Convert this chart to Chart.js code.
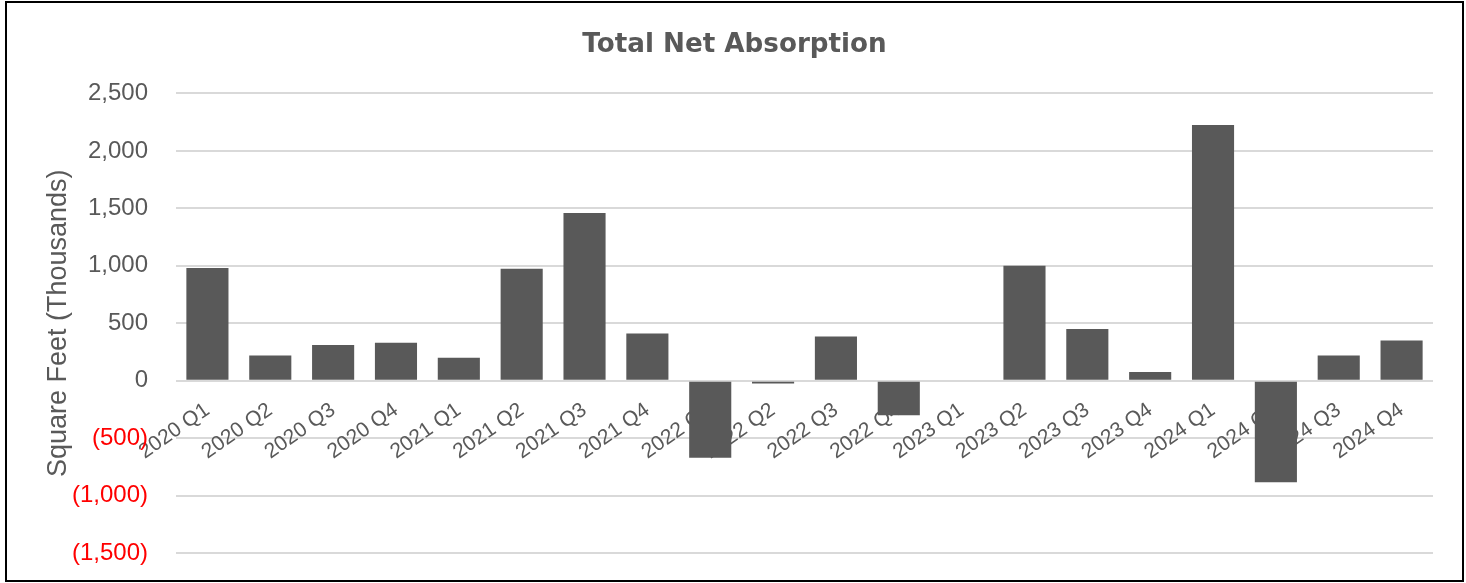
<!DOCTYPE html>
<html>
<head>
<meta charset="utf-8">
<script src="https://cdn.jsdelivr.net/npm/chart.js@4.4.1/dist/chart.umd.min.js"></script>
<style>
  body { margin: 0; background: #fff; }
  .frame {
    position: absolute;
    left: 5px;
    top: 1px;
    width: 1455px;
    height: 577px;
    border: 2px solid #000;
  }
</style>
</head>
<body>
<div class="frame">
  <canvas id="chart" width="1455" height="577"></canvas>
</div>
<script>
const quarters = [
  "2020 Q1", "2020 Q2", "2020 Q3", "2020 Q4",
  "2021 Q1", "2021 Q2", "2021 Q3", "2021 Q4",
  "2022 Q1", "2022 Q2", "2022 Q3", "2022 Q4",
  "2023 Q1", "2023 Q2", "2023 Q3", "2023 Q4",
  "2024 Q1", "2024 Q2", "2024 Q3", "2024 Q4"
];
// net absorption, thousands of sq ft
const netAbsorption = [
  980, 220, 310, 330,
  200, 975, 1460, 410,
  -670, -25, 385, -300,
  0, 1000, 450, 75,
  2225, -885, 220, 350
];
const yTicks = { min: -1500, max: 2500, step: 500 };

const grey = "#595959";

function fmtThousands(v) {
  const s = Math.abs(v).toLocaleString("en-US");
  return v < 0 ? "(" + s + ")" : s;
}

new Chart(document.getElementById("chart"), {
  type: "bar",
  data: {
    labels: quarters,
    datasets: [{
      label: "Total Net Absorption",
      data: netAbsorption,
      backgroundColor: grey,
      categoryPercentage: 1,
      barPercentage: 0.67
    }]
  },
  options: {
    responsive: false,
    animation: false,
    layout: { padding: { top: 0, right: 29, bottom: 27, left: 29 } },
    plugins: {
      legend: { display: false },
      tooltip: { enabled: false },
      title: {
        display: true,
        text: "Total Net Absorption",
        color: grey,
        font: { family: "DejaVu Sans", size: 26.2, weight: "bold" },
        padding: { top: 26, bottom: 33 }
      }
    },
    scales: {
      x: {
        position: { y: 0 },
        afterFit(scale) { scale.height = 0; },
        grid: { display: false, drawTicks: false },
        border: { display: false },
        ticks: {
          autoSkip: false,
          minRotation: 35,
          maxRotation: 35,
          padding: 17,
          color: grey,
          font: { family: "Liberation Sans", size: 21 }
        }
      },
      y: {
        min: yTicks.min,
        max: yTicks.max,
        afterFit(scale) { scale.width = 140; },
        // long invisible tick marks give the label gap without extra end padding
        grid: { color: "#d9d9d9", lineWidth: 2, tickLength: 28, tickColor: "rgba(0,0,0,0)" },
        border: { display: false },
        ticks: {
          stepSize: yTicks.step,
          padding: 0,
          font: { family: "Liberation Sans", size: 24 },
          color: ctx => ctx.tick.value < 0 ? "#ff0000" : grey,
          callback: v => fmtThousands(v)
        },
        title: {
          display: true,
          text: "Square Feet (Thousands)",
          color: grey,
          font: { family: "Liberation Sans", size: 27 },
          padding: { top: 6, bottom: 0 }
        }
      }
    }
  }
});
</script>
</body>
</html>
